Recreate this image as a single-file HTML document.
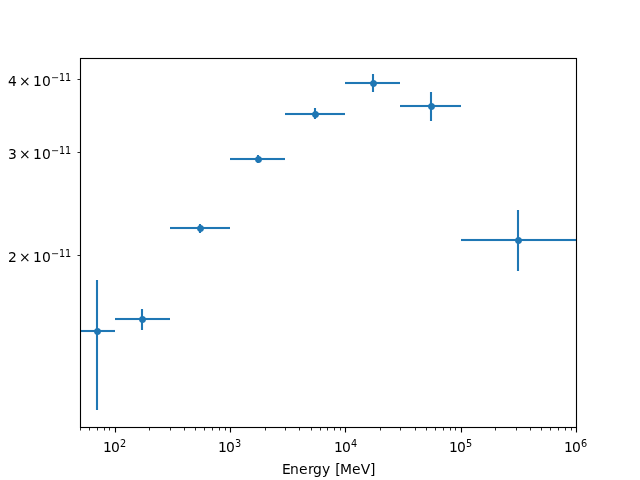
<!DOCTYPE html>
<html lang="en"><head><meta charset="utf-8"><title>Flux points vs. energy</title>
<style>
html,body{margin:0;padding:0;background:#fff;}
body{width:640px;height:480px;overflow:hidden;}
svg{display:block;}
text{font-family:"DejaVu Sans","Liberation Sans",sans-serif;fill:#000;font-size:13.889px;}
.sup{font-size:9.722px;}
</style></head><body>
<svg width="640" height="480" viewBox="0 0 640 480" role="img" aria-label="Flux points versus energy">
<rect x="0" y="0" width="640" height="480" fill="#fff"/>
<g fill="#1f77b4">
<rect x="345" y="81.9583" width="55" height="2.0833"/>
<rect x="400" y="104.9583" width="61" height="2.0833"/>
<rect x="285" y="112.9583" width="60" height="2.0833"/>
<rect x="230" y="157.9583" width="55" height="2.0833"/>
<rect x="170" y="226.9583" width="60" height="2.0833"/>
<rect x="461" y="238.9583" width="115" height="2.0833"/>
<rect x="115" y="317.9583" width="55" height="2.0833"/>
<rect x="81" y="329.9583" width="34" height="2.0833"/>
<rect x="95.9583" y="280" width="2.0833" height="130"/>
<rect x="140.9583" y="309" width="2.0833" height="21"/>
<rect x="198.9583" y="224" width="2.0833" height="9"/>
<rect x="256.9583" y="155" width="2.0833" height="8"/>
<rect x="313.9583" y="108" width="2.0833" height="11"/>
<rect x="371.9583" y="74" width="2.0833" height="18"/>
<rect x="429.9583" y="92" width="2.0833" height="29"/>
<rect x="516.9583" y="210" width="2.0833" height="61"/>
<polygon points="100.97,331.50 100.95,331.84 100.90,332.18 100.82,332.51 100.71,332.83 100.56,333.14 100.39,333.43 100.18,333.70 99.95,333.95 99.70,334.18 99.43,334.39 99.14,334.56 98.83,334.71 98.51,334.82 98.18,334.90 97.84,334.95 97.50,334.97 97.16,334.95 96.82,334.90 96.49,334.82 96.17,334.71 95.86,334.56 95.57,334.39 95.30,334.18 95.05,333.95 94.82,333.70 94.61,333.43 94.44,333.14 94.29,332.83 94.18,332.51 94.10,332.18 94.05,331.84 94.03,331.50 94.05,331.16 94.10,330.82 94.18,330.49 94.29,330.17 94.44,329.86 94.61,329.57 94.82,329.30 95.05,329.05 95.30,328.82 95.57,328.61 95.86,328.44 96.17,328.29 96.49,328.18 96.82,328.10 97.16,328.05 97.50,328.03 97.84,328.05 98.18,328.10 98.51,328.18 98.83,328.29 99.14,328.44 99.43,328.61 99.70,328.82 99.95,329.05 100.18,329.30 100.39,329.57 100.56,329.86 100.71,330.17 100.82,330.49 100.90,330.82 100.95,331.16"/>
<polygon points="145.97,319.50 145.95,319.84 145.90,320.18 145.82,320.51 145.71,320.83 145.56,321.14 145.39,321.43 145.18,321.70 144.95,321.95 144.70,322.18 144.43,322.39 144.14,322.56 143.83,322.71 143.51,322.82 143.18,322.90 142.84,322.95 142.50,322.97 142.16,322.95 141.82,322.90 141.49,322.82 141.17,322.71 140.86,322.56 140.57,322.39 140.30,322.18 140.05,321.95 139.82,321.70 139.61,321.43 139.44,321.14 139.29,320.83 139.18,320.51 139.10,320.18 139.05,319.84 139.03,319.50 139.05,319.16 139.10,318.82 139.18,318.49 139.29,318.17 139.44,317.86 139.61,317.57 139.82,317.30 140.05,317.05 140.30,316.82 140.57,316.61 140.86,316.44 141.17,316.29 141.49,316.18 141.82,316.10 142.16,316.05 142.50,316.03 142.84,316.05 143.18,316.10 143.51,316.18 143.83,316.29 144.14,316.44 144.43,316.61 144.70,316.82 144.95,317.05 145.18,317.30 145.39,317.57 145.56,317.86 145.71,318.17 145.82,318.49 145.90,318.82 145.95,319.16"/>
<polygon points="203.97,228.50 203.95,228.84 203.90,229.18 203.82,229.51 203.71,229.83 203.56,230.14 203.39,230.43 203.18,230.70 202.95,230.95 202.70,231.18 202.43,231.39 202.14,231.56 201.83,231.71 201.51,231.82 201.18,231.90 200.84,231.95 200.50,231.97 200.16,231.95 199.82,231.90 199.49,231.82 199.17,231.71 198.86,231.56 198.57,231.39 198.30,231.18 198.05,230.95 197.82,230.70 197.61,230.43 197.44,230.14 197.29,229.83 197.18,229.51 197.10,229.18 197.05,228.84 197.03,228.50 197.05,228.16 197.10,227.82 197.18,227.49 197.29,227.17 197.44,226.86 197.61,226.57 197.82,226.30 198.05,226.05 198.30,225.82 198.57,225.61 198.86,225.44 199.17,225.29 199.49,225.18 199.82,225.10 200.16,225.05 200.50,225.03 200.84,225.05 201.18,225.10 201.51,225.18 201.83,225.29 202.14,225.44 202.43,225.61 202.70,225.82 202.95,226.05 203.18,226.30 203.39,226.57 203.56,226.86 203.71,227.17 203.82,227.49 203.90,227.82 203.95,228.16"/>
<polygon points="261.97,159.50 261.95,159.84 261.90,160.18 261.82,160.51 261.71,160.83 261.56,161.14 261.39,161.43 261.18,161.70 260.95,161.95 260.70,162.18 260.43,162.39 260.14,162.56 259.83,162.71 259.51,162.82 259.18,162.90 258.84,162.95 258.50,162.97 258.16,162.95 257.82,162.90 257.49,162.82 257.17,162.71 256.86,162.56 256.57,162.39 256.30,162.18 256.05,161.95 255.82,161.70 255.61,161.43 255.44,161.14 255.29,160.83 255.18,160.51 255.10,160.18 255.05,159.84 255.03,159.50 255.05,159.16 255.10,158.82 255.18,158.49 255.29,158.17 255.44,157.86 255.61,157.57 255.82,157.30 256.05,157.05 256.30,156.82 256.57,156.61 256.86,156.44 257.17,156.29 257.49,156.18 257.82,156.10 258.16,156.05 258.50,156.03 258.84,156.05 259.18,156.10 259.51,156.18 259.83,156.29 260.14,156.44 260.43,156.61 260.70,156.82 260.95,157.05 261.18,157.30 261.39,157.57 261.56,157.86 261.71,158.17 261.82,158.49 261.90,158.82 261.95,159.16"/>
<polygon points="318.97,114.50 318.95,114.84 318.90,115.18 318.82,115.51 318.71,115.83 318.56,116.14 318.39,116.43 318.18,116.70 317.95,116.95 317.70,117.18 317.43,117.39 317.14,117.56 316.83,117.71 316.51,117.82 316.18,117.90 315.84,117.95 315.50,117.97 315.16,117.95 314.82,117.90 314.49,117.82 314.17,117.71 313.86,117.56 313.57,117.39 313.30,117.18 313.05,116.95 312.82,116.70 312.61,116.43 312.44,116.14 312.29,115.83 312.18,115.51 312.10,115.18 312.05,114.84 312.03,114.50 312.05,114.16 312.10,113.82 312.18,113.49 312.29,113.17 312.44,112.86 312.61,112.57 312.82,112.30 313.05,112.05 313.30,111.82 313.57,111.61 313.86,111.44 314.17,111.29 314.49,111.18 314.82,111.10 315.16,111.05 315.50,111.03 315.84,111.05 316.18,111.10 316.51,111.18 316.83,111.29 317.14,111.44 317.43,111.61 317.70,111.82 317.95,112.05 318.18,112.30 318.39,112.57 318.56,112.86 318.71,113.17 318.82,113.49 318.90,113.82 318.95,114.16"/>
<polygon points="376.97,83.50 376.95,83.84 376.90,84.18 376.82,84.51 376.71,84.83 376.56,85.14 376.39,85.43 376.18,85.70 375.95,85.95 375.70,86.18 375.43,86.39 375.14,86.56 374.83,86.71 374.51,86.82 374.18,86.90 373.84,86.95 373.50,86.97 373.16,86.95 372.82,86.90 372.49,86.82 372.17,86.71 371.86,86.56 371.57,86.39 371.30,86.18 371.05,85.95 370.82,85.70 370.61,85.43 370.44,85.14 370.29,84.83 370.18,84.51 370.10,84.18 370.05,83.84 370.03,83.50 370.05,83.16 370.10,82.82 370.18,82.49 370.29,82.17 370.44,81.86 370.61,81.57 370.82,81.30 371.05,81.05 371.30,80.82 371.57,80.61 371.86,80.44 372.17,80.29 372.49,80.18 372.82,80.10 373.16,80.05 373.50,80.03 373.84,80.05 374.18,80.10 374.51,80.18 374.83,80.29 375.14,80.44 375.43,80.61 375.70,80.82 375.95,81.05 376.18,81.30 376.39,81.57 376.56,81.86 376.71,82.17 376.82,82.49 376.90,82.82 376.95,83.16"/>
<polygon points="434.97,106.50 434.95,106.84 434.90,107.18 434.82,107.51 434.71,107.83 434.56,108.14 434.39,108.43 434.18,108.70 433.95,108.95 433.70,109.18 433.43,109.39 433.14,109.56 432.83,109.71 432.51,109.82 432.18,109.90 431.84,109.95 431.50,109.97 431.16,109.95 430.82,109.90 430.49,109.82 430.17,109.71 429.86,109.56 429.57,109.39 429.30,109.18 429.05,108.95 428.82,108.70 428.61,108.43 428.44,108.14 428.29,107.83 428.18,107.51 428.10,107.18 428.05,106.84 428.03,106.50 428.05,106.16 428.10,105.82 428.18,105.49 428.29,105.17 428.44,104.86 428.61,104.57 428.82,104.30 429.05,104.05 429.30,103.82 429.57,103.61 429.86,103.44 430.17,103.29 430.49,103.18 430.82,103.10 431.16,103.05 431.50,103.03 431.84,103.05 432.18,103.10 432.51,103.18 432.83,103.29 433.14,103.44 433.43,103.61 433.70,103.82 433.95,104.05 434.18,104.30 434.39,104.57 434.56,104.86 434.71,105.17 434.82,105.49 434.90,105.82 434.95,106.16"/>
<polygon points="521.97,240.50 521.95,240.84 521.90,241.18 521.82,241.51 521.71,241.83 521.56,242.14 521.39,242.43 521.18,242.70 520.95,242.95 520.70,243.18 520.43,243.39 520.14,243.56 519.83,243.71 519.51,243.82 519.18,243.90 518.84,243.95 518.50,243.97 518.16,243.95 517.82,243.90 517.49,243.82 517.17,243.71 516.86,243.56 516.57,243.39 516.30,243.18 516.05,242.95 515.82,242.70 515.61,242.43 515.44,242.14 515.29,241.83 515.18,241.51 515.10,241.18 515.05,240.84 515.03,240.50 515.05,240.16 515.10,239.82 515.18,239.49 515.29,239.17 515.44,238.86 515.61,238.57 515.82,238.30 516.05,238.05 516.30,237.82 516.57,237.61 516.86,237.44 517.17,237.29 517.49,237.18 517.82,237.10 518.16,237.05 518.50,237.03 518.84,237.05 519.18,237.10 519.51,237.18 519.83,237.29 520.14,237.44 520.43,237.61 520.70,237.82 520.95,238.05 521.18,238.30 521.39,238.57 521.56,238.86 521.71,239.17 521.82,239.49 521.90,239.82 521.95,240.16"/>
</g>
<g fill="#000">
<rect x="114.9445" y="427.5" width="1.1111" height="5"/>
<rect x="229.9444" y="427.5" width="1.1111" height="5"/>
<rect x="344.9445" y="427.5" width="1.1111" height="5"/>
<rect x="460.9445" y="427.5" width="1.1111" height="5"/>
<rect x="575.9444" y="427.5" width="1.1111" height="5"/>
<rect x="80.0833" y="427.5" width="0.8333" height="3"/>
<rect x="89.0833" y="427.5" width="0.8333" height="3"/>
<rect x="97.0833" y="427.5" width="0.8333" height="3"/>
<rect x="104.0833" y="427.5" width="0.8333" height="3"/>
<rect x="109.0833" y="427.5" width="0.8333" height="3"/>
<rect x="149.0833" y="427.5" width="0.8333" height="3"/>
<rect x="170.0833" y="427.5" width="0.8333" height="3"/>
<rect x="184.0833" y="427.5" width="0.8333" height="3"/>
<rect x="195.0833" y="427.5" width="0.8333" height="3"/>
<rect x="204.0833" y="427.5" width="0.8333" height="3"/>
<rect x="212.0833" y="427.5" width="0.8333" height="3"/>
<rect x="219.0833" y="427.5" width="0.8333" height="3"/>
<rect x="225.0833" y="427.5" width="0.8333" height="3"/>
<rect x="265.0833" y="427.5" width="0.8333" height="3"/>
<rect x="285.0833" y="427.5" width="0.8333" height="3"/>
<rect x="299.0833" y="427.5" width="0.8333" height="3"/>
<rect x="311.0833" y="427.5" width="0.8333" height="3"/>
<rect x="320.0833" y="427.5" width="0.8333" height="3"/>
<rect x="327.0833" y="427.5" width="0.8333" height="3"/>
<rect x="334.0833" y="427.5" width="0.8333" height="3"/>
<rect x="340.0833" y="427.5" width="0.8333" height="3"/>
<rect x="380.0833" y="427.5" width="0.8333" height="3"/>
<rect x="400.0833" y="427.5" width="0.8333" height="3"/>
<rect x="415.0833" y="427.5" width="0.8333" height="3"/>
<rect x="426.0833" y="427.5" width="0.8333" height="3"/>
<rect x="435.0833" y="427.5" width="0.8333" height="3"/>
<rect x="443.0833" y="427.5" width="0.8333" height="3"/>
<rect x="450.0833" y="427.5" width="0.8333" height="3"/>
<rect x="455.0833" y="427.5" width="0.8333" height="3"/>
<rect x="495.0833" y="427.5" width="0.8333" height="3"/>
<rect x="516.0833" y="427.5" width="0.8333" height="3"/>
<rect x="530.0833" y="427.5" width="0.8333" height="3"/>
<rect x="541.0833" y="427.5" width="0.8333" height="3"/>
<rect x="550.0833" y="427.5" width="0.8333" height="3"/>
<rect x="558.0833" y="427.5" width="0.8333" height="3"/>
<rect x="565.0833" y="427.5" width="0.8333" height="3"/>
<rect x="571.0833" y="427.5" width="0.8333" height="3"/>
<rect x="77.5" y="79.0833" width="3" height="0.8333"/>
<rect x="77.5" y="152.0833" width="3" height="0.8333"/>
<rect x="77.5" y="255.0833" width="3" height="0.8333"/>
</g>
<rect x="80.5" y="58.5" width="496" height="369" fill="none" stroke="#000" stroke-width="1.1111"/>
<text x="103 111" y="452">10<tspan class="sup" x="120" y="447">2</tspan></text>
<text x="218 226" y="452">10<tspan class="sup" x="235" y="447">3</tspan></text>
<text x="334 342" y="452">10<tspan class="sup" x="351" y="447">4</tspan></text>
<text x="449 457" y="452">10<tspan class="sup" x="466" y="447">5</tspan></text>
<text x="564 572" y="452">10<tspan class="sup" x="581" y="447">6</tspan></text>
<text x="8 19 33 42" y="86">4×10<tspan class="sup" x="51 59 65" y="81 81 81">−11</tspan></text>
<text x="8 19 33 42" y="159">3×10<tspan class="sup" x="51 59 65" y="154 154 154">−11</tspan></text>
<text x="8 19 33 42" y="262">2×10<tspan class="sup" x="51 59 65" y="257 257 257">−11</tspan></text>
<text x="282.04 290.06 298.99 307.99 312.94 321.95 330.16 335.18 339.98 351.95 360.8 369.98" y="474">Energy [MeV]</text>
</svg>
</body></html>
